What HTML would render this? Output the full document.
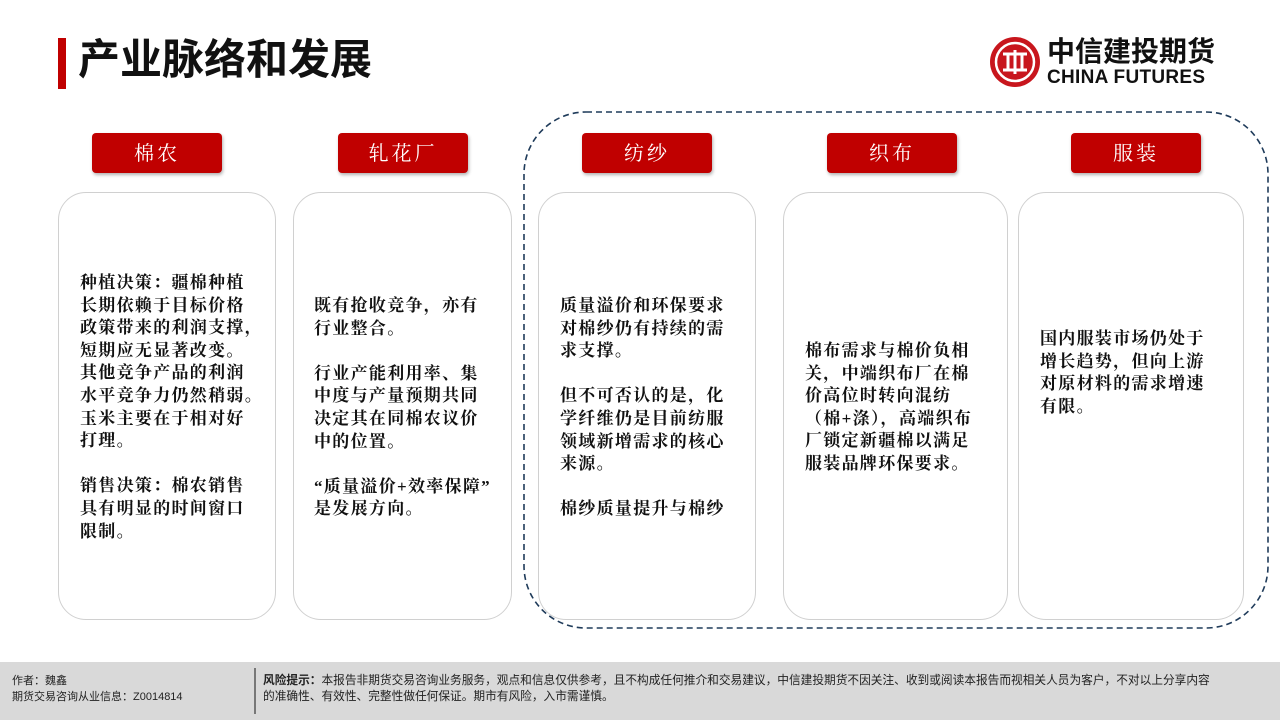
<!DOCTYPE html>
<html><head><meta charset="utf-8"><style>
body{margin:0;width:1280px;height:720px;position:relative;background:#fff;overflow:hidden;font-family:"Liberation Sans","Noto Sans CJK SC",sans-serif}
.a{position:absolute}
.btn{position:absolute;top:133px;width:130px;height:40px;background:#c00000;border-radius:4px;color:#fff;font-size:20px;line-height:42px;text-align:center;letter-spacing:3px;box-shadow:1px 2px 3px rgba(0,0,0,.3);font-family:"Liberation Serif","Noto Serif CJK SC",serif}
.card{position:absolute;top:192px;height:428px;border:1.5px solid #d0d0d0;border-radius:28px;box-sizing:border-box;background:#fff}
.t{position:absolute;font-family:"Liberation Serif","Noto Serif CJK SC",serif;font-weight:bold;font-size:17px;letter-spacing:1.3px;line-height:22.6px;color:#111;white-space:nowrap}
</style></head><body>
<div class="a" style="left:58px;top:38px;width:8px;height:51px;background:#c00000"></div>
<div class="a" style="left:78px;top:34px;font-size:42px;font-weight:bold;color:#111;line-height:52px">产业脉络和发展</div>
<svg class="a" style="left:989px;top:36px" width="52" height="52" viewBox="0 0 52 52"><circle cx="26" cy="26" r="25" fill="#c8161d"/><circle cx="26" cy="26" r="19" fill="none" stroke="#fff" stroke-width="2.5"/><path d="M14 18h24M14 34h24M19 18v16M26 14v24M33 18v16" stroke="#fff" stroke-width="3"/></svg>
<div class="a" style="left:1047px;top:36px;font-size:28px;font-weight:bold;color:#111;line-height:32px;letter-spacing:0px">中信建投期货</div>
<div class="a" style="left:1047px;top:67px;font-size:19px;font-weight:bold;color:#111;line-height:22px;letter-spacing:0.3px">CHINA FUTURES</div>
<svg class="a" style="left:0;top:0" width="1280" height="720"><rect x="524" y="112" width="744" height="516" rx="62" fill="none" stroke="#1f3b5a" stroke-width="1.6" stroke-dasharray="6,4"/></svg>
<div class="btn" style="left:92px">棉农</div>
<div class="btn" style="left:338px">轧花厂</div>
<div class="btn" style="left:582px">纺纱</div>
<div class="btn" style="left:827px">织布</div>
<div class="btn" style="left:1071px">服装</div>
<div class="card" style="left:58px;width:218px"></div>
<div class="card" style="left:293px;width:219px"></div>
<div class="card" style="left:538px;width:218px"></div>
<div class="card" style="left:783px;width:225px"></div>
<div class="card" style="left:1018px;width:226px"></div>
<div class="t" style="left:80px;top:272px">种植决策：疆棉种植<br>长期依赖于目标价格<br>政策带来的利润支撑，<br>短期应无显著改变。<br>其他竞争产品的利润<br>水平竞争力仍然稍弱。<br>玉米主要在于相对好<br>打理。<br><br>销售决策：棉农销售<br>具有明显的时间窗口<br>限制。</div>
<div class="t" style="left:314px;top:295px">既有抢收竞争，亦有<br>行业整合。<br><br>行业产能利用率、集<br>中度与产量预期共同<br>决定其在同棉农议价<br>中的位置。<br><br>“质量溢价+效率保障”<br>是发展方向。</div>
<div class="t" style="left:560px;top:295px">质量溢价和环保要求<br>对棉纱仍有持续的需<br>求支撑。<br><br>但不可否认的是，化<br>学纤维仍是目前纺服<br>领域新增需求的核心<br>来源。<br><br>棉纱质量提升与棉纱</div>
<div class="t" style="left:805px;top:340px">棉布需求与棉价负相<br>关，中端织布厂在棉<br>价高位时转向混纺<br>（棉+涤），高端织布<br>厂锁定新疆棉以满足<br>服装品牌环保要求。</div>
<div class="t" style="left:1040px;top:328px">国内服装市场仍处于<br>增长趋势，但向上游<br>对原材料的需求增速<br>有限。</div>
<div class="a" style="left:0;top:662px;width:1280px;height:58px;background:#d9d9d9"></div>
<div class="a" style="left:254px;top:668px;width:1.5px;height:46px;background:#777"></div>
<div class="a" style="left:12px;top:673px;font-size:11px;line-height:16px;color:#222">作者：魏鑫<br>期货交易咨询从业信息：Z0014814</div>
<div class="a" style="left:263px;top:673px;font-size:11.7px;line-height:16px;color:#222;width:1015px;white-space:nowrap"><b>风险提示：</b>本报告非期货交易咨询业务服务，观点和信息仅供参考，且不构成任何推介和交易建议，中信建投期货不因关注、收到或阅读本报告而视相关人员为客户，不对以上分享内容<br>的准确性、有效性、完整性做任何保证。期市有风险，入市需谨慎。</div>
</body></html>
